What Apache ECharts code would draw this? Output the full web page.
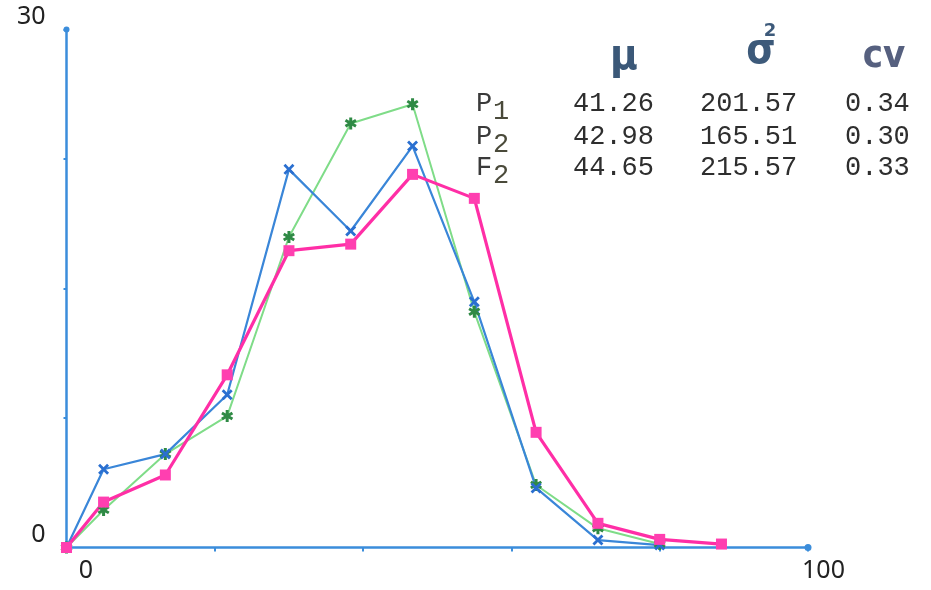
<!DOCTYPE html>
<html>
<head>
<meta charset="utf-8">
<script src="https://cdn.jsdelivr.net/npm/echarts@6/dist/echarts.min.js"></script>
<style>
html,body{margin:0;padding:0;background:#fff;}
#chart{width:931px;height:590px;}
</style>
</head>
<body>
<div id="chart"></div>
<script>
// ---- data ----
var xPositions = [0, 5, 13.33, 21.67, 30, 38.33, 46.67, 55, 63.33, 71.67, 80, 88.33];
var p1Values = [0, 4.53, 5.41, 8.85, 21.9, 18.33, 23.25, 14.23, 3.45, 0.43, 0.14];
var p2Values = [0, 2.17, 5.41, 7.61, 17.98, 24.56, 25.67, 13.65, 3.62, 1.11, 0.2];
var f2Values = [0, 2.63, 4.2, 10.0, 17.19, 17.57, 21.61, 20.22, 6.67, 1.4, 0.47, 0.2];
var xTickLabels = [0, 100];
var yTickLabels = [0, 30];
// stats table
var tableHeaders = ['\u03bc', '\u03c3', 'cv'];
var rowNames = ['P', 'P', 'F'];
var rowSubs = ['1', '2', '2'];
var muVals = ['41.26', '42.98', '44.65'];
var sigma2Vals = ['201.57', '165.51', '215.57'];
var cvVals = ['0.34', '0.30', '0.33'];

function pairs(vals) {
  return vals.map(function (v, i) { return [xPositions[i], v]; });
}

var crossPath = 'path://M0,1.8L1.8,0L5,3.2L8.2,0L10,1.8L6.8,5L10,8.2L8.2,10L5,6.8L1.8,10L0,8.2L3.2,5Z';
var starPath = 'path://M3.8,0L6.2,0L6.2,2.8L8.6,1.4L9.8,3.4L7.4,4.9L9.8,6.4L8.6,8.4L6.2,7L6.2,10L3.8,10L3.8,7L1.4,8.4L0.2,6.4L2.6,4.9L0.2,3.4L1.4,1.4L3.8,2.8Z';

var chart = echarts.init(document.getElementById('chart'));

var monoFont = '27px "Liberation Mono", "DejaVu Sans Mono", monospace';
var graphics = [];
var rowY = [104, 137, 168];
for (var i = 0; i < rowNames.length; i++) {
  graphics.push({ type: 'text', style: { text: rowNames[i], x: 476, y: rowY[i], font: monoFont, fill: '#3a3a3a', textVerticalAlign: 'middle' } });
  graphics.push({ type: 'text', style: { text: rowSubs[i], x: 493, y: rowY[i] + 8, font: monoFont, fill: '#4a4a3a', textVerticalAlign: 'middle' } });
  graphics.push({ type: 'text', style: { text: muVals[i], x: 573, y: rowY[i], font: monoFont, fill: '#2e2e2e', textVerticalAlign: 'middle' } });
  graphics.push({ type: 'text', style: { text: sigma2Vals[i], x: 700, y: rowY[i], font: monoFont, fill: '#2e2e2e', textVerticalAlign: 'middle' } });
  graphics.push({ type: 'text', style: { text: cvVals[i], x: 845, y: rowY[i], font: monoFont, fill: '#2e2e2e', textVerticalAlign: 'middle' } });
}
graphics.push({ type: 'text', style: { text: tableHeaders[0], x: 624, y: 58, font: 'bold 42px "DejaVu Sans Condensed", "DejaVu Sans", sans-serif', fill: '#3b5878', textAlign: 'center', textVerticalAlign: 'middle' } });
graphics.push({ type: 'text', style: { text: tableHeaders[1], x: 761, y: 52, font: 'bold 42px "DejaVu Sans Condensed", "DejaVu Sans", sans-serif', fill: '#3d5a7a', textAlign: 'center', textVerticalAlign: 'middle' } });
graphics.push({ type: 'text', style: { text: '2', x: 770, y: 31, font: 'bold 18px "DejaVu Sans", sans-serif', fill: '#3d5a7a', textAlign: 'center', textVerticalAlign: 'middle' } });
graphics.push({ type: 'text', style: { text: tableHeaders[2], x: 884, y: 57, font: 'bold 38px "DejaVu Sans Condensed", "DejaVu Sans", sans-serif', fill: '#56607f', textAlign: 'center', textVerticalAlign: 'middle' } });

var axisColor = '#3b8ddb';
var option = {
  backgroundColor: '#ffffff',
  animation: false,
  grid: { left: 66.5, right: 123, top: 29.5, bottom: 42.5 },
  xAxis: {
    type: 'value', min: 0, max: 100, interval: 20,
    axisLine: { lineStyle: { color: axisColor, width: 2.5 }, symbol: ['none', 'circle'], symbolSize: [7, 7] },
    axisTick: { show: true, length: 4, lineStyle: { color: axisColor, width: 2 } },
    splitLine: { show: false },
    axisLabel: {
      margin: 11,
      formatter: function (v) {
        if (v === xTickLabels[0]) return '{a|' + v + '}';
        if (v === xTickLabels[1]) return '{b|' + v + '}';
        return '';
      },
      rich: {
        a: { fontSize: 25, fontFamily: 'Noto Sans', color: '#222', padding: [0, 0, 0, 39] },
        b: { fontSize: 25, fontFamily: 'Noto Sans', color: '#222', padding: [0, 0, 0, 31] }
      }
    }
  },
  yAxis: {
    type: 'value', min: 0, max: 30, interval: 7.5,
    axisLine: { show: true, lineStyle: { color: axisColor, width: 2.5 }, symbol: ['none', 'circle'], symbolSize: [9, 6] },
    axisTick: { show: true, length: 3, lineStyle: { color: axisColor, width: 2 } },
    splitLine: { show: false },
    axisLabel: {
      margin: 21, fontSize: 25, fontFamily: 'Noto Sans', color: '#222', verticalAlign: 'bottom',
      formatter: function (v) { return (v === yTickLabels[0] || v === yTickLabels[1]) ? String(v) : ''; }
    }
  },
  graphic: graphics,
  series: [
    {
      name: 'P2', type: 'line', data: pairs(p2Values), symbol: starPath, symbolSize: 12,
      lineStyle: { color: '#7fdc88', width: 2 }, itemStyle: { color: '#2f8a45' }
    },
    {
      name: 'P1', type: 'line', data: pairs(p1Values), symbol: crossPath, symbolSize: 11,
      lineStyle: { color: '#3a86d8', width: 2.2 }, itemStyle: { color: '#2a6fd0' }
    },
    {
      name: 'F2', type: 'line', data: pairs(f2Values), symbol: 'rect', symbolSize: 11,
      lineStyle: { color: '#ff2ea6', width: 3.2 }, itemStyle: { color: '#ff3fb0' }
    }
  ]
};
chart.setOption(option);
</script>
</body>
</html>
